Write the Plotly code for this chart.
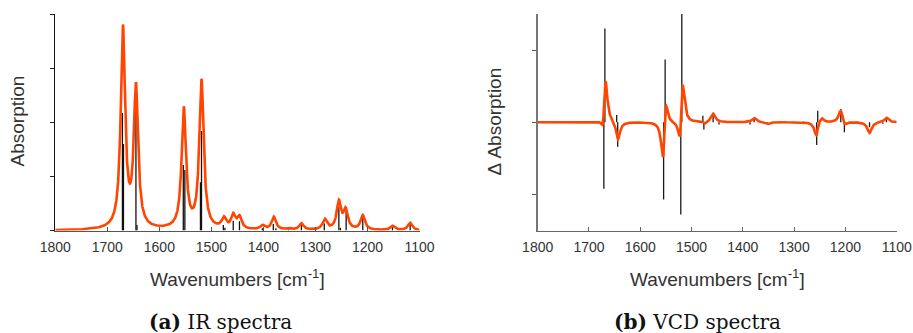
import numpy as np
import plotly.graph_objects as go

# ---------------- data ----------------
# IR stick spectrum (wavenumber, intensity)
ir_stick_wn = [1671, 1669, 1645, 1643, 1554, 1551, 1521, 1519, 1477, 1474, 1458, 1446,
               1402, 1381, 1376, 1352, 1327, 1283, 1255, 1252, 1241, 1209, 1152, 1118]
ir_stick_h = [2.17, 1.60, 2.47, 0.10, 1.21, 1.12, 0.89, 1.84, 0.10, 0.05, 0.18, 0.17,
              0.04, 0.12, 0.04, 0.02, 0.10, 0.13, 0.44, 0.05, 0.35, 0.26, 0.07, 0.12]

# IR broadened spectrum: Lorentzian bands (centre, amplitude)
ir_band_wn = [1670, 1645, 1553, 1519, 1476, 1458, 1446, 1402, 1380, 1352, 1327,
              1282, 1255, 1242, 1209, 1152, 1118]
ir_band_amp = [3.70, 2.59, 2.22, 2.74, 0.19, 0.25, 0.22, 0.08, 0.24, 0.03, 0.12,
               0.19, 0.51, 0.35, 0.27, 0.08, 0.14]

# VCD stick spectrum
vcd_stick_wn = [1671, 1669, 1646, 1644, 1554.5, 1551.5, 1521, 1519, 1478, 1476, 1458,
                1446.5, 1403.5, 1386, 1378, 1352, 1327.5, 1282, 1256, 1254, 1209,
                1202, 1153, 1127, 1120]
vcd_stick_h = [-0.92, 1.30, 0.10, -0.34, -1.07, 0.87, -1.28, 1.52, 0.09, -0.10, 0.09,
               -0.03, 0.01, -0.03, 0.05, -0.02, 0.01, 0.01, -0.315, 0.16, 0.185,
               -0.14, -0.07, -0.02, 0.07]

# VCD broadened spectrum: Lorentzian bands (centre, amplitude)
vcd_band_wn = [1671, 1669, 1646, 1644, 1554.5, 1551.5, 1521, 1519, 1478, 1476, 1458,
               1378, 1352, 1256, 1254, 1246, 1209, 1202, 1153, 1120]
vcd_band_amp = [-0.92, 1.30, 0.10, -0.34, -1.05, 0.87, -1.28, 1.50, 0.06, -0.08, 0.12,
                0.06, -0.03, -0.32, 0.16, 0.07, 0.185, -0.08, -0.15, 0.065]

band_hwhm = 5.0  # cm-1

x_ticks = [1800, 1700, 1600, 1500, 1400, 1300, 1200, 1100]
x_tick_text = [str(v) for v in x_ticks]

# ---------------- helpers ----------------
grid = np.linspace(1800, 1100, 2801)


def broaden(centres, amps, g):
    c = np.asarray(centres, float)[:, None]
    a = np.asarray(amps, float)[:, None]
    return (a * g * g / ((grid[None, :] - c) ** 2 + g * g)).sum(axis=0)


def sticks(wn, h):
    xs, ys = [], []
    for w, v in zip(wn, h):
        xs += [w, w, None]
        ys += [0, v, None]
    return xs, ys


W, H = 913, 333
CURVE = "#ff4500"
FONT = "Liberation Sans, Arial, Helvetica, sans-serif"

fig = go.Figure()

sx, sy = sticks(ir_stick_wn, ir_stick_h)
fig.add_trace(go.Scatter(x=sx, y=sy, mode="lines", line=dict(color="#111111", width=1.3),
                         xaxis="x", yaxis="y", showlegend=False, hoverinfo="skip"))
fig.add_trace(go.Scatter(x=grid, y=broaden(ir_band_wn, ir_band_amp, band_hwhm), mode="lines",
                         line=dict(color=CURVE, width=2.6), xaxis="x", yaxis="y",
                         showlegend=False))

sx, sy = sticks(vcd_stick_wn, vcd_stick_h)
fig.add_trace(go.Scatter(x=sx, y=sy, mode="lines", line=dict(color="#1a1a1a", width=1.3),
                         xaxis="x2", yaxis="y2", showlegend=False, hoverinfo="skip"))
fig.add_trace(go.Scatter(x=grid, y=broaden(vcd_band_wn, vcd_band_amp, band_hwhm), mode="lines",
                         line=dict(color=CURVE, width=2.6), xaxis="x2", yaxis="y2",
                         showlegend=False))

y_dom = [1 - 230.5 / H, 1 - 14 / H]
xcommon = dict(range=[1800, 1100], tickvals=x_ticks, ticktext=x_tick_text, ticks="inside",
               ticklen=4, showgrid=False, zeroline=False, showline=True, automargin=False,
               ticklabelstandoff=3,
               tickfont=dict(family=FONT, size=14, color="#333333"))

fig.update_layout(
    template="none",
    width=W, height=H, margin=dict(l=0, r=0, t=0, b=0, pad=0), autosize=False,
    paper_bgcolor="white", plot_bgcolor="white",
    xaxis=dict(domain=[55.3 / W, 419.5 / W], anchor="y", linecolor="#555555", linewidth=1.3,
               tickcolor="#555555", **xcommon),
    yaxis=dict(domain=y_dom, range=[0, 4], tickvals=[0, 1, 2, 3, 4], showticklabels=False,
               ticks="outside", ticklen=4, tickcolor="#222222", showline=True, automargin=False,
               linecolor="#111111", linewidth=1.3, showgrid=False, zeroline=False, anchor="x"),
    xaxis2=dict(domain=[537.7 / W, 896.7 / W], anchor="y2", linecolor="#666666", linewidth=1.3,
                tickcolor="#666666", **xcommon),
    yaxis2=dict(domain=y_dom, range=[-1.5, 1.5], tickvals=[-1, 0, 1], showticklabels=False,
                ticks="outside", ticklen=4, tickcolor="#555555", showline=True, automargin=False,
                linecolor="#777777", linewidth=1.3, showgrid=False, zeroline=False, anchor="x2"),
)

ann_font = dict(family=FONT, size=19, color="#333333")
cap_font = dict(family="DejaVu Serif, Liberation Serif, serif", size=20, color="#111111")
anns = [
    dict(text="Wavenumbers [cm<sup>-1</sup>]", x=237.4 / W, y=1 - 277.7 / H, font=ann_font),
    dict(text="Wavenumbers [cm<sup>-1</sup>]", x=717 / W, y=1 - 277.7 / H, font=ann_font),
    dict(text="Absorption", x=17 / W, y=1 - 121.5 / H, font=ann_font, textangle=-90),
    dict(text="Δ Absorption", x=494 / W, y=1 - 121.5 / H, font=ann_font, textangle=-90),
    dict(text="<b>(a)</b> IR spectra", x=220.8 / W, y=1 - 321.7 / H, font=cap_font),
    dict(text="<b>(b)</b> VCD spectra", x=697.5 / W, y=1 - 321.7 / H, font=cap_font),
]
for a in anns:
    fig.add_annotation(xref="paper", yref="paper", xanchor="center", yanchor="middle",
                       showarrow=False, **a)

fig.write_html("out.html", config={"displayModeBar": False, "staticPlot": True},
               post_script="document.body.style.margin='0';document.body.style.overflow='hidden';")
